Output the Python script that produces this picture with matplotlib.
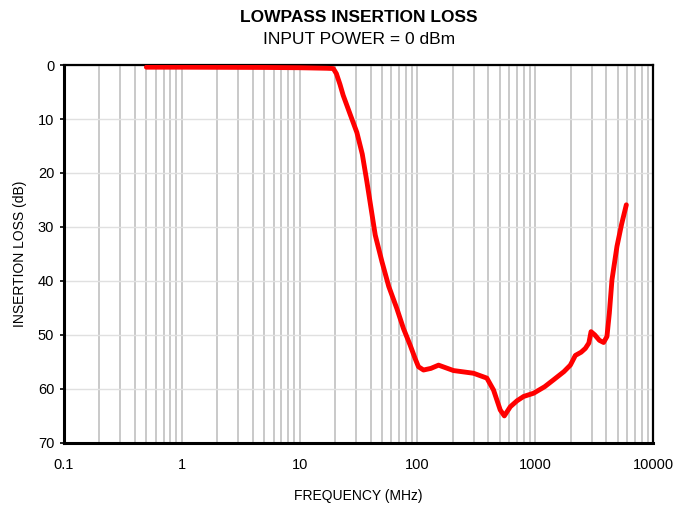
import matplotlib
matplotlib.use("Agg")
import matplotlib.pyplot as plt
from matplotlib.ticker import LogLocator, FixedLocator, NullFormatter

plt.rcParams["font.family"] = ["Liberation Sans", "DejaVu Sans"]

# frequency (MHz) and insertion loss (dB)
freq = [0.5, 1, 5, 10, 17, 19.3, 20.5, 22, 23.4, 27, 30.6, 34, 37.2, 43.8, 49.9,
        57, 66.8, 76, 86.7, 96, 102, 112.5, 130, 151, 202, 299, 388, 442, 504,
        546, 614, 700, 796, 968, 1200, 1432, 1750, 1983, 2050, 2188, 2450, 2660,
        2850, 2973, 3200, 3500, 3800, 4057, 4250, 4475, 4935, 5400, 5925]
loss = [0.4, 0.4, 0.45, 0.5, 0.6, 0.65, 1.6, 3.6, 5.6, 9.3, 12.5, 16.5, 21.6,
        31.5, 36.4, 41.0, 45.1, 48.8, 51.9, 54.5, 55.9, 56.5, 56.2, 55.6, 56.6,
        57.1, 58.0, 60.2, 63.9, 65.0, 63.3, 62.2, 61.4, 60.8, 59.6, 58.3, 56.8,
        55.6, 55.0, 53.8, 53.2, 52.5, 51.5, 49.4, 50.0, 51.0, 51.4, 50.3, 46.0,
        39.8, 33.6, 29.5, 25.9]

fig = plt.figure(figsize=(6.74, 5.12), dpi=100)
ax = fig.add_axes([0.095, 0.135, 0.874, 0.738])

ax.plot(freq, loss, color="#ff0000", lw=3.5, solid_capstyle="round", zorder=3)

ax.set_xscale("log")
ax.set_xlim(0.1, 10000)
ax.set_ylim(70, 0)
ax.set_yticks(range(0, 71, 10))
ax.xaxis.set_major_locator(FixedLocator([0.1, 1, 10, 100, 1000, 10000]))
ax.set_xticklabels(["0.1", "1", "10", "100", "1000", "10000"])
ax.xaxis.set_minor_locator(LogLocator(base=10, subs=range(2, 10)))
ax.xaxis.set_minor_formatter(NullFormatter())

ax.grid(True, which="both", axis="x", color="#c0c0c0", lw=1.2)
ax.grid(True, which="major", axis="y", color="#e0e0e0", lw=1.0)
ax.set_axisbelow(True)

ax.tick_params(axis="x", which="both", length=0, pad=11, labelsize=10.5)
ax.tick_params(axis="y", length=3, width=1.2, pad=4, labelsize=10.5)

ax.spines["left"].set_linewidth(2.2)
ax.spines["bottom"].set_linewidth(2.2)
ax.spines["top"].set_linewidth(1.6)
ax.spines["right"].set_linewidth(1.6)

ax.set_xlabel("FREQUENCY (MHz)", fontsize=10, labelpad=12)
ax.set_ylabel("INSERTION LOSS (dB)", fontsize=10, labelpad=8)

fig.text(0.532, 0.965, "LOWPASS INSERTION LOSS", ha="center", va="center",
         fontsize=12.5, fontweight="bold")
fig.text(0.532, 0.922, "INPUT POWER = 0 dBm", ha="center", va="center",
         fontsize=12.5)

fig.savefig("out.png", dpi=100)
